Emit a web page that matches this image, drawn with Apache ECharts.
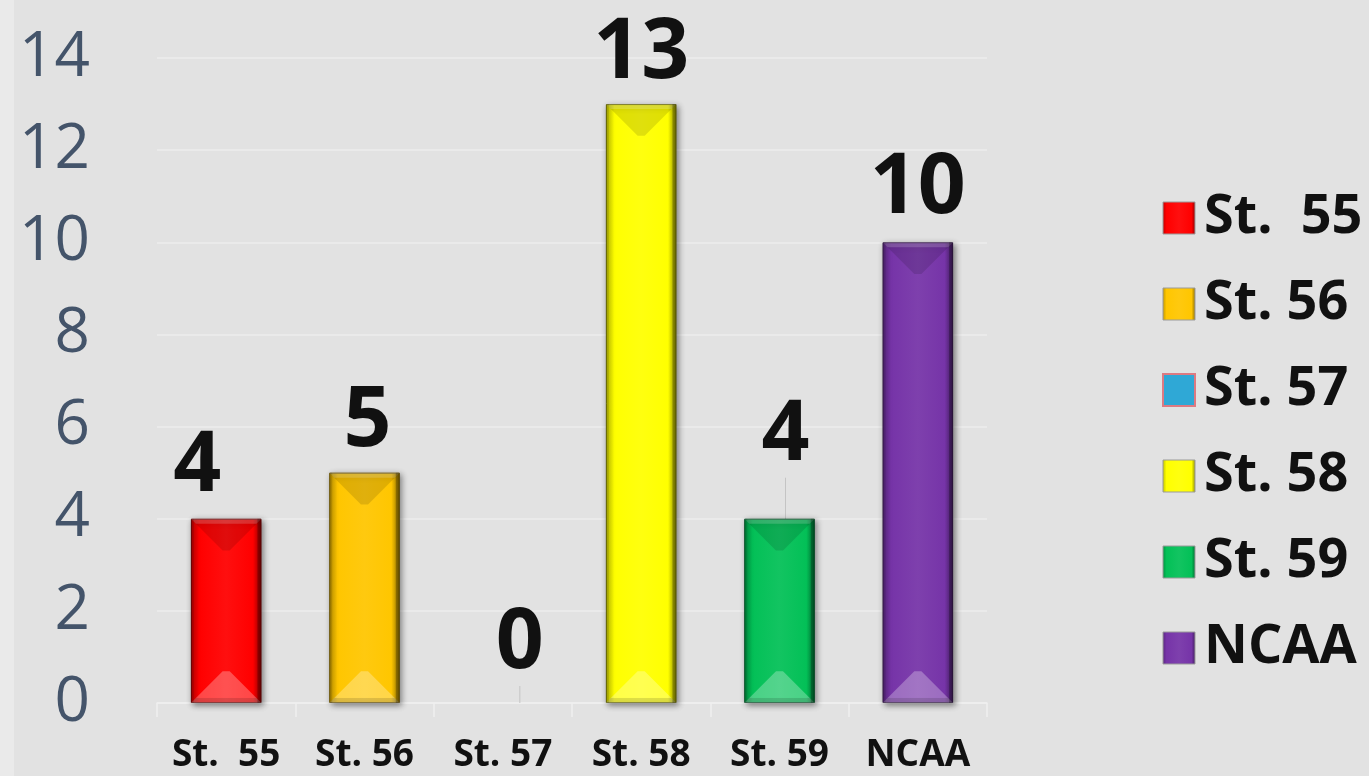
<!DOCTYPE html>
<html>
<head>
<meta charset="utf-8">
<script src="https://cdn.jsdelivr.net/npm/echarts@6/dist/echarts.min.js"></script>
<style>
html,body{margin:0;padding:0;background:#e2e2e2;}
#chart{width:1369px;height:776px;}
</style>
</head>
<body>
<div id="chart"></div>
<script>
// ---- data ----
const categories = ['St.  55', 'St. 56', 'St. 57', 'St. 58', 'St. 59', 'NCAA'];
const values = [4, 5, 0, 13, 4, 10];
const yTicks = [0, 2, 4, 6, 8, 10, 12, 14];

// ---- styles ----
const colors = ['#ff0000', '#ffc600', '#2fa8d6', '#ffff00', '#03c057', '#7634a8'];
const labelOffsets = [[-29, -4], [3, -3], [17, -11], [0, -2], [6, -35], [0, -5]];
const showLeader = [false, false, true, false, true, false];
const FONT = '"Open Sans", "Noto Sans", sans-serif';

function shade(hex, f) {
  const n = parseInt(hex.slice(1), 16);
  let r = (n >> 16) & 255, g = (n >> 8) & 255, b = n & 255;
  if (f < 0) { r *= (1 + f); g *= (1 + f); b *= (1 + f); }
  else { r += (255 - r) * f; g += (255 - g) * f; b += (255 - b) * f; }
  return 'rgb(' + Math.round(r) + ',' + Math.round(g) + ',' + Math.round(b) + ')';
}

const chart = echarts.init(document.getElementById('chart'), null, { renderer: 'canvas' });

const barSeries = categories.map((name, i) => ({
  name: name,
  type: 'bar',
  stack: 'all',
  barWidth: '51%',
  data: values.map((v, j) => {
    if (j !== i) return '-';
    if (v === 0) return { value: v, itemStyle: { color: 'rgba(0,0,0,0)', borderWidth: 0, shadowBlur: 0, shadowOffsetX: 0, shadowOffsetY: 0, shadowColor: 'rgba(0,0,0,0)' } };
    return v;
  }),
  itemStyle: {
    color: {
      type: 'linear', x: 0, y: 0, x2: 1, y2: 0,
      colorStops: [
        { offset: 0, color: shade(colors[i], -0.25) },
        { offset: 0.12, color: colors[i] },
        { offset: 0.5, color: shade(colors[i], 0.06) },
        { offset: 0.88, color: colors[i] },
        { offset: 1, color: shade(colors[i], -0.45) }
      ]
    },
    borderColor: shade(colors[i], -0.55),
    borderWidth: 1,
    shadowColor: 'rgba(0,0,0,0.45)',
    shadowBlur: 6,
    shadowOffsetX: 2,
    shadowOffsetY: 2
  },
  label: {
    show: true,
    position: 'top',
    distance: 6,
    fontSize: 84,
    fontWeight: 'bold',
    fontFamily: FONT,
    color: '#111111',
    lineHeight: 84
  },
  labelLayout: { dx: labelOffsets[i][0], dy: labelOffsets[i][1] },
  labelLine: { show: showLeader[i], lineStyle: { color: '#c4c4c4', width: 1 } },
  emphasis: { disabled: true }
}));

const bevelSeries = {
  type: 'custom',
  silent: true,
  z: 5,
  data: values.map((v, i) => [i, v]),
  renderItem: function (params, api) {
    const v = api.value(1);
    if (!v) return null;
    const top = api.coord([api.value(0), v]);
    const bot = api.coord([api.value(0), 0]);
    const w = api.size([1, 0])[0] * 0.51;
    const x0 = top[0] - w / 2, x1 = top[0] + w / 2;
    const yT = top[1], yB = bot[1];
    const b = Math.min(w * 0.45, (yB - yT) / 2);
    const e = 5;
    return {
      type: 'group',
      children: [
        { type: 'polygon', shape: { points: [[x0, yT], [x1, yT], [x1 - b, yT + b], [x0 + b, yT + b]] },
          style: { fill: 'rgba(0,0,0,0.12)' } },
        { type: 'polygon', shape: { points: [[x0, yT], [x1, yT], [x1 - e, yT + e], [x0 + e, yT + e]] },
          style: { fill: 'rgba(255,255,255,0.18)' } },
        { type: 'polygon', shape: { points: [[x0, yB], [x1, yB], [x1 - b, yB - b], [x0 + b, yB - b]] },
          style: { fill: 'rgba(255,255,255,0.28)' } },
        { type: 'polygon', shape: { points: [[x0, yB], [x1, yB], [x1 - e, yB - e], [x0 + e, yB - e]] },
          style: { fill: 'rgba(0,0,0,0.12)' } },
        { type: 'rect', shape: { x: x1 - 4, y: yT, width: 4, height: yB - yT },
          style: { fill: 'rgba(0,0,0,0.25)' } },
        { type: 'rect', shape: { x: x0, y: yT, width: 3, height: yB - yT },
          style: { fill: 'rgba(0,0,0,0.12)' } }
      ]
    };
  }
};

const legendData = categories.map((name, i) => ({
  name: name,
  itemStyle: i === 2
    ? { color: colors[i], borderColor: '#dd7a82', borderWidth: 2 }
    : { borderColor: '#9a9a9a', borderWidth: 1 }
}));

chart.setOption({
  backgroundColor: '#e2e2e2',
  animation: false,
  graphic: [{ type: 'rect', left: 0, top: 0, shape: { width: 14, height: 776 }, style: { fill: '#eaeaea' }, z: -1 }],
  grid: { left: 157, right: 382, top: 58, bottom: 73 },
  legend: {
    orient: 'vertical',
    left: 1157,
    top: 186,
    icon: 'rect',
    itemWidth: 32,
    itemHeight: 32,
    itemGap: 32,
    data: legendData,
    textStyle: { fontSize: 54, fontWeight: 'bold', fontFamily: FONT, color: '#111111', lineHeight: 54, padding: [0, 0, 0, 4] }
  },
  xAxis: {
    type: 'category',
    data: categories,
    axisLine: { show: true, lineStyle: { color: '#f0f0f0', width: 1.5 } },
    axisTick: { show: true, length: 14, lineStyle: { color: '#f0f0f0', width: 1.5 } },
    axisLabel: { fontSize: 37, fontWeight: 'bold', fontFamily: FONT, color: '#111111', margin: 34, interval: 0 }
  },
  yAxis: {
    type: 'value',
    min: yTicks[0],
    max: yTicks[yTicks.length - 1],
    interval: yTicks[1] - yTicks[0],
    axisLine: { show: false },
    axisTick: { show: false },
    splitLine: { lineStyle: { color: '#ececec', width: 1.5 } },
    axisLabel: { fontSize: 62, fontFamily: FONT, color: '#44546a', margin: 67 }
  },
  series: barSeries.concat([bevelSeries])
});
</script>
</body>
</html>
